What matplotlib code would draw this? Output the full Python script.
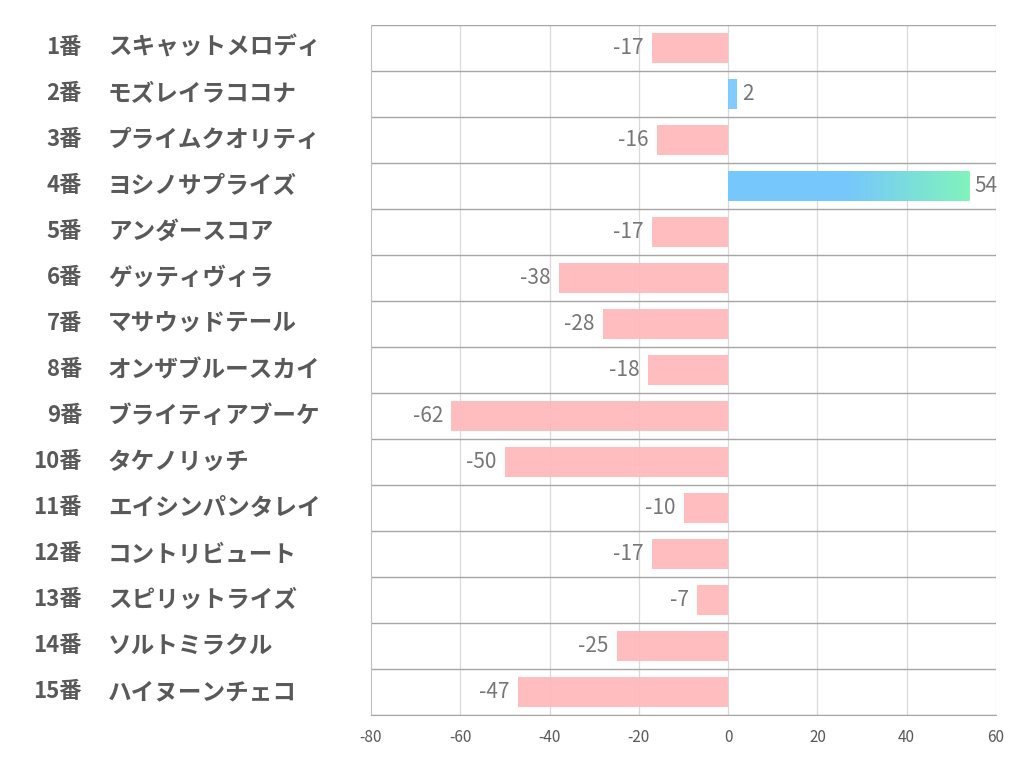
import numpy as np
import matplotlib.pyplot as plt
from matplotlib.colors import LinearSegmentedColormap
from matplotlib.transforms import blended_transform_factory

plt.rcParams['font.family'] = ['Noto Sans CJK JP', 'DejaVu Sans']

# Data
numbers = ['1番', '2番', '3番', '4番', '5番', '6番', '7番', '8番', '9番', '10番',
           '11番', '12番', '13番', '14番', '15番']
names = ['スキャットメロディ', 'モズレイラココナ', 'プライムクオリティ', 'ヨシノサプライズ',
         'アンダースコア', 'ゲッティヴィラ', 'マサウッドテール', 'オンザブルースカイ',
         'ブライティアブーケ', 'タケノリッチ', 'エイシンパンタレイ', 'コントリビュート',
         'スピリットライズ', 'ソルトミラクル', 'ハイヌーンチェコ']
values = [-17, 2, -16, 54, -17, -38, -28, -18, -62, -50, -10, -17, -7, -25, -47]
xticks = [-80, -60, -40, -20, 0, 20, 40, 60]

pink = '#FFB8BB'
blue = '#76C8FC'
green = '#80F8B6'
text_gray = '#595959'
val_gray = '#767676'

fig = plt.figure(figsize=(10.22, 7.82), dpi=100)
ax = fig.add_axes([371 / 1022, 1 - 715 / 782, 625 / 1022, 690 / 782])

y = np.arange(len(values))
h = 0.66
colors = [pink if v < 0 else blue for v in values]
bars = ax.barh(y, values, height=h, color=colors, alpha=0.92, zorder=2)

# gradient on the long positive bar
cmap = LinearSegmentedColormap.from_list('bg', [(0, blue), (0.5, blue), (1, green)])
for b, v, yi in zip(bars, values, y):
    if v > 10:
        grad = np.linspace(0, 1, 256).reshape(1, -1)
        im = ax.imshow(grad, extent=[0, v, yi + h / 2, yi - h / 2], aspect='auto',
                       cmap=cmap, alpha=0.92, zorder=3)
        im.set_clip_path(b)

ax.set_xlim(-80, 60)
ax.set_ylim(len(values) - 0.5, -0.5)
ax.set_xticks(xticks)
ax.set_xticklabels([str(t) for t in xticks], fontsize=11, color=text_gray)
ax.set_yticks([])
ax.tick_params(axis='x', length=0, pad=10)

for t in xticks[1:]:
    ax.axvline(t, color='#D9D9D9', lw=0.9, zorder=1)
for i in range(len(values) + 1):
    ax.axhline(i - 0.5, color='#A6A6A6', lw=1.0, zorder=1)

for s in ['top', 'right']:
    ax.spines[s].set_visible(False)
ax.spines['left'].set_color('#BFBFBF')
ax.spines['bottom'].set_color('#A6A6A6')

# value labels
for yi, v in zip(y, values):
    if v < 0:
        ax.annotate(str(v), (v, yi), xytext=(-6, 0), textcoords='offset points',
                    ha='right', va='center', fontsize=15, color=val_gray)
    else:
        ax.annotate(str(v), (v, yi), xytext=(4, 0), textcoords='offset points',
                    ha='left', va='center', fontsize=15, color=val_gray)

# row labels on the left
tr = blended_transform_factory(fig.transFigure, ax.transData)
for yi, num, nm in zip(y, numbers, names):
    ax.text(82 / 1022, yi, num, transform=tr, ha='right', va='center',
            fontsize=16, fontweight='bold', color=text_gray, clip_on=False)
    ax.text(108 / 1022, yi, nm, transform=tr, ha='left', va='center',
            fontsize=17, fontweight='bold', color=text_gray, clip_on=False)

fig.savefig('out.png', dpi=100)
